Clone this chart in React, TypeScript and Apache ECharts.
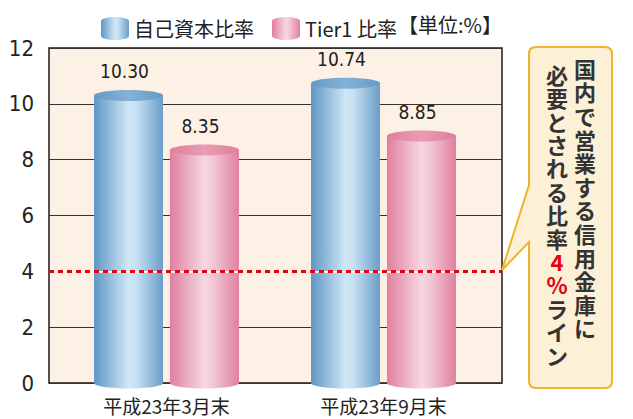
import React, { useEffect, useRef } from 'react';
import * as echarts from 'echarts';

const categories = ['平成23年3月末', '平成23年9月末'];
const seriesNames = ['自己資本比率', 'Tier1 比率'];
const capitalRatio = [10.3, 10.74];
const tier1Ratio = [8.35, 8.85];
const yMin = 0;
const yMax = 12;
const yInterval = 2;
const requiredRatio = 4;
const unitLabel = '【単位:%】';
const calloutRight = '国内で営業する信用金庫に';
const calloutLeftA = '必要とされる比率';
const calloutPct = '4%';
const calloutLeftB = 'ライン';

const CJK = '"Noto Sans CJK JP", "Noto Sans CJK SC", sans-serif';
const NARROW = '"Liberation Sans Narrow", "DejaVu Sans Condensed", "Roboto", sans-serif';

const K = 0.5523;
const CylBody = echarts.graphic.extendShape({
  shape: { cx: 0, top: 0, bottom: 0, rx: 0, ry: 0 },
  buildPath(ctx: any, s: any) {
    const { cx, top, bottom, rx, ry } = s;
    ctx.moveTo(cx - rx, top);
    ctx.lineTo(cx - rx, bottom);
    ctx.bezierCurveTo(cx - rx, bottom + K * ry, cx - K * rx, bottom + ry, cx, bottom + ry);
    ctx.bezierCurveTo(cx + K * rx, bottom + ry, cx + rx, bottom + K * ry, cx + rx, bottom);
    ctx.lineTo(cx + rx, top);
    ctx.closePath();
  },
});
const CylTop = echarts.graphic.extendShape({
  shape: { cx: 0, cy: 0, rx: 0, ry: 0 },
  buildPath(ctx: any, s: any) {
    const { cx, cy, rx, ry } = s;
    ctx.moveTo(cx - rx, cy);
    ctx.bezierCurveTo(cx - rx, cy - K * ry, cx - K * rx, cy - ry, cx, cy - ry);
    ctx.bezierCurveTo(cx + K * rx, cy - ry, cx + rx, cy - K * ry, cx + rx, cy);
    ctx.bezierCurveTo(cx + rx, cy + K * ry, cx + K * rx, cy + ry, cx, cy + ry);
    ctx.bezierCurveTo(cx - K * rx, cy + ry, cx - rx, cy + K * ry, cx - rx, cy);
    ctx.closePath();
  },
});
echarts.graphic.registerShape('cylBody', CylBody);
echarts.graphic.registerShape('cylTop', CylTop);

const calloutD =
  'M536,47 L605,47 Q612,47 612,54 L612,381 Q612,388 605,388 L536,388 Q529,388 529,381 L529,242 L502,270 L529,185 L529,54 Q529,47 536,47 Z';
echarts.graphic.registerShape('callout', echarts.graphic.extendPath(calloutD, {}));

const blueBody = () =>
  new echarts.graphic.LinearGradient(0, 0, 1, 0, [
    { offset: 0, color: '#5f96c4' },
    { offset: 0.5, color: '#cfe7f6' },
    { offset: 0.62, color: '#c4e0f2' },
    { offset: 1, color: '#6a9ec9' },
  ]);
const blueTop = () =>
  new echarts.graphic.LinearGradient(0, 0, 1, 0, [
    { offset: 0, color: '#6599c6' },
    { offset: 0.5, color: '#84b2d8' },
    { offset: 1, color: '#6599c6' },
  ]);
const pinkBody = () =>
  new echarts.graphic.LinearGradient(0, 0, 1, 0, [
    { offset: 0, color: '#e07f9f' },
    { offset: 0.5, color: '#f6d7e3' },
    { offset: 0.62, color: '#f2c8d7' },
    { offset: 1, color: '#e0809f' },
  ]);
const pinkTop = () =>
  new echarts.graphic.LinearGradient(0, 0, 1, 0, [
    { offset: 0, color: '#df7f9d' },
    { offset: 0.5, color: '#e99cb4' },
    { offset: 1, color: '#df7f9d' },
  ]);

function makeRender(side: number, body: () => any, topFill: () => any) {
  return (params: any, api: any) => {
    const idx = api.value(0);
    const v = api.value(1);
    const top = api.coord([idx, v]);
    const base = api.coord([idx, 0]);
    const band = api.size([1, 0])[0];
    const w = band * 0.318;
    const cx = top[0] + side * band * 0.175;
    const rx = w / 2;
    const ry = 5.5;
    return {
      type: 'group',
      children: [
        {
          type: 'cylBody',
          shape: { cx, top: top[1], bottom: base[1], rx, ry },
          style: { fill: body() },
        },
        {
          type: 'cylTop',
          shape: { cx, cy: top[1], rx, ry },
          style: { fill: topFill() },
        },
        {
          type: 'text',
          x: cx - 4,
          y: top[1] - 24,
          style: {
            text: v.toFixed(2),
            align: 'center',
            verticalAlign: 'middle',
            textAlign: 'center',
            textVerticalAlign: 'middle',
            font: '19px ' + NARROW,
            fill: '#222',
          },
        },
      ],
    };
  };
}

const verticalize = (s: string) => s.split('').join('\n');

function columnText(x: number, y: number, text: string, fill: string, lh: number) {
  return {
    type: 'text',
    x,
    y,
    style: {
      text: verticalize(text),
      align: 'center',
      textAlign: 'center',
      verticalAlign: 'top',
      textVerticalAlign: 'top',
      font: 'bold 22px ' + CJK,
      lineHeight: lh,
      fill,
    },
  };
}

export default function App() {
  const ref = useRef<HTMLDivElement>(null);
  useEffect(() => {
    if (!ref.current) return;
    const chart = echarts.init(ref.current, null, { renderer: 'svg' });
    const legendIcon = 'path://M0,4A14,4,0,0,1,28,4L28,19A14,4,0,0,1,0,19Z';
    const lhR = 23.6;
    const lhL = 23.4;
    const leftY = 62;
    chart.setOption({
      animation: false,
      backgroundColor: '#ffffff',
      legend: {
        left: 96,
        top: 12,
        itemWidth: 28,
        itemHeight: 23,
        itemGap: 18,
        icon: legendIcon,
        data: seriesNames,
        textStyle: { fontSize: 20, fontFamily: CJK, color: '#222' },
      },
      grid: [
        {
          left: 49,
          right: 131,
          top: 48,
          bottom: 36,
          show: true,
          backgroundColor: '#fdf1e5',
          borderColor: '#1a1a1a',
          borderWidth: 1.5,
        },
        { left: 58, right: 141, top: 48, bottom: 36 },
      ],
      xAxis: [
        { gridIndex: 0, type: 'value', min: 0, max: 1, show: false },
        {
          gridIndex: 1,
          type: 'category',
          data: categories,
          axisLine: { show: false },
          axisTick: { show: false },
          axisLabel: { fontSize: 19, fontFamily: CJK, color: '#222', margin: 13 },
        },
      ],
      yAxis: [
        {
          gridIndex: 0,
          type: 'value',
          min: yMin,
          max: yMax,
          interval: yInterval,
          axisLine: { show: false },
          axisTick: { show: false },
          axisLabel: { fontSize: 22, fontFamily: NARROW, color: '#222', margin: 15 },
          splitLine: { show: true, lineStyle: { color: '#333', width: 1 } },
        },
        { gridIndex: 1, type: 'value', min: yMin, max: yMax, show: false },
      ],
      series: [
        {
          type: 'line',
          xAxisIndex: 0,
          yAxisIndex: 0,
          data: [],
          z: 1,
          silent: true,
          markLine: {
            silent: true,
            symbol: 'none',
            label: { show: false },
            data: [
              { yAxis: requiredRatio, lineStyle: { color: '#fdf1e5', type: 'solid', width: 2 } },
              { yAxis: requiredRatio, lineStyle: { color: '#e50012', type: [5, 4], width: 3 } },
            ],
          },
        },
        {
          name: seriesNames[0],
          type: 'custom',
          xAxisIndex: 1,
          yAxisIndex: 1,
          z: 3,
          itemStyle: { color: blueBody() },
          encode: { x: 0, y: 1 },
          data: capitalRatio.map((v, i) => [i, v]),
          renderItem: makeRender(-1, blueBody, blueTop),
        },
        {
          name: seriesNames[1],
          type: 'custom',
          xAxisIndex: 1,
          yAxisIndex: 1,
          z: 3,
          itemStyle: { color: pinkBody() },
          encode: { x: 0, y: 1 },
          data: tier1Ratio.map((v, i) => [i, v]),
          renderItem: makeRender(1, pinkBody, pinkTop),
        },
      ],
      graphic: [
        {
          type: 'text',
          x: 502,
          y: 24,
          style: {
            text: unitLabel,
            align: 'right',
            verticalAlign: 'middle',
            textAlign: 'right',
            textVerticalAlign: 'middle',
            font: '20px ' + CJK,
            fill: '#222',
          },
        },
        {
          type: 'callout',
          x: 0,
          y: 0,
          style: { fill: '#fcf0d6', stroke: '#edb431', lineWidth: 2 },
        },
        columnText(585, 56, calloutRight, '#333', lhR),
        columnText(557, leftY, calloutLeftA, '#333', lhL),
        columnText(557, leftY + calloutLeftA.length * lhL, calloutPct, '#e50012', lhL),
        columnText(
          557,
          leftY + (calloutLeftA.length + calloutPct.length) * lhL,
          calloutLeftB,
          '#333',
          lhL
        ),
      ],
    });
    return () => chart.dispose();
  }, []);
  return (
    <div
      ref={ref}
      style={{ position: 'fixed', left: 0, top: 0, width: 633, height: 419 }}
    />
  );
}
